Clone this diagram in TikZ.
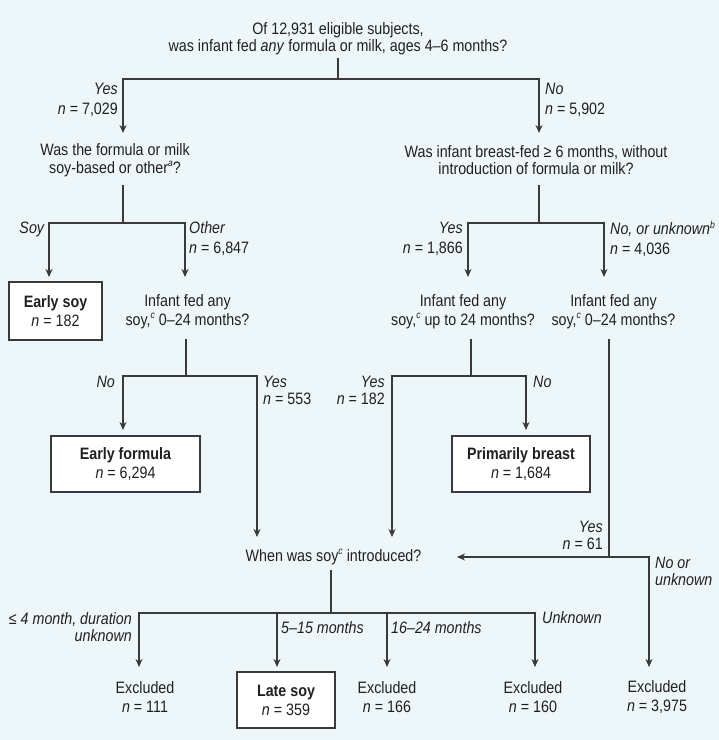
\documentclass[tikz,border=0pt]{standalone}
\usepackage{fontspec}
\setmainfont[FakeStretch=0.865]{Liberation Sans}
\usetikzlibrary{arrows.meta}
\definecolor{bg}{HTML}{EDF7F9}
\definecolor{ink}{HTML}{231F20}
\definecolor{lnc}{HTML}{3A3A3A}
\newcommand{\fnmark}[1]{\raisebox{0.75ex}{\fontsize{10}{10}\selectfont\textit{#1}}}
\begin{document}
\begin{tikzpicture}[x=1pt,y=-1pt,
  every node/.style={text=ink, inner sep=0pt},
  qtext/.style={align=center, font=\fontsize{16.5}{17.5}\selectfont},
  qtextb/.style={align=center, font=\fontsize{16.5}{19}\selectfont},
  labr/.style={align=right, font=\fontsize{16.5}{17}\selectfont},
  labl/.style={align=left, font=\fontsize{16.5}{17}\selectfont},
  labrw/.style={align=right, font=\fontsize{16.5}{20}\selectfont},
  lablw/.style={align=left, font=\fontsize{16.5}{20}\selectfont},
  outbox/.style={draw=lnc, fill=white, line width=1.1pt, align=center,
    font=\fontsize{16.5}{19}\selectfont},
  ln/.style={draw=lnc, line width=1.1pt},
  arr/.style={ln, -{Stealth[length=8pt,width=7pt,inset=2.5pt]}}]
\fill[bg] (0,0) rectangle (719,740);
\useasboundingbox (0,0) rectangle (719,740);

% questions
\node[qtext, minimum height=39pt] (q1) at (338,38.5) {Of 12,931 eligible subjects,\\was infant fed \textit{any} formula or milk, ages 4–6 months?};
\node[qtext, minimum height=50pt] (q2l) at (115,160) {Was the formula or milk\\soy-based or other\fnmark{a}?};
\node[qtext, minimum height=50pt] (q2r) at (536,160) {Was infant breast-fed ≥ 6 months, without\\introduction of formula or milk?};
\node[qtextb, minimum height=55pt] (q3l) at (187.5,311.5) {Infant fed any\\soy,\fnmark{c} 0–24 months?};
\node[qtextb, minimum height=55pt] (q3m) at (463,311.5) {Infant fed any\\soy,\fnmark{c} up to 24 months?};
\node[qtextb, minimum height=55pt] (q3r) at (613.5,311.5) {Infant fed any\\soy,\fnmark{c} 0–24 months?};
\node[qtext, minimum height=26pt] (q4) at (333.5,557) {When was soy\fnmark{c} introduced?};

% outcome boxes
\node[outbox, minimum width=93pt, minimum height=58pt] (esoy) at (55.5,311) {\textbf{Early soy}\\\textit{n} = 182};
\node[outbox, minimum width=149pt, minimum height=56pt] (efor) at (125.5,464) {\textbf{Early formula}\\\textit{n} = 6,294};
\node[outbox, minimum width=138pt, minimum height=56pt] (pbr) at (521,464) {\textbf{Primarily breast}\\\textit{n} = 1,684};
\node[outbox, minimum width=98pt, minimum height=56pt] (lsoy) at (286,700) {\textbf{Late soy}\\\textit{n} = 359};

% excluded
\node[qtextb] (ex1) at (145,697.5) {Excluded\\\textit{n} = 111};
\node[qtextb] (ex2) at (387,697.5) {Excluded\\\textit{n} = 166};
\node[qtextb] (ex3) at (533,697.5) {Excluded\\\textit{n} = 160};
\node[qtextb] (ex4) at (657,697.5) {Excluded\\\textit{n} = 3,975};

% branch labels
\node[labrw, anchor=east] (lb1) at (118,99.5) {\textit{Yes}\\\textit{n} = 7,029};
\node[lablw, anchor=west] (lb2) at (545,99.5) {\textit{No}\\\textit{n} = 5,902};
\node[labr, anchor=east] (lb3) at (45,229) {\textit{Soy}};
\node[lablw, anchor=west] (lb4) at (189,239) {\textit{Other}\\\textit{n} = 6,847};
\node[labrw, anchor=east] (lb5) at (463,239) {\textit{Yes}\\\textit{n} = 1,866};
\node[lablw, anchor=west] (lb6) at (610,239) {\textit{No, or unknown}\fnmark{b}\\\textit{n} = 4,036};
\node[labr, anchor=east] (lb7) at (115,382) {\textit{No}};
\node[labl, anchor=west] (lb8) at (263,390) {\textit{Yes}\\\textit{n} = 553};
\node[labr, anchor=east] (lb9) at (385,390) {\textit{Yes}\\\textit{n} = 182};
\node[labl, anchor=west] (lb10) at (533,382) {\textit{No}};
\node[labr, anchor=east] (lb11) at (603,535.5) {\textit{Yes}\\\textit{n} = 61};
\node[labl, anchor=west] (lb12) at (655,571.5) {\textit{No or}\\\textit{unknown}};
\node[labr, anchor=east] (lb13) at (132,627) {\textit{≤ 4 month, duration}\\\textit{unknown}};
\node[labl, anchor=west] (lb14) at (281,628) {\textit{5–15 months}};
\node[labl, anchor=west] (lb15) at (391,628) {\textit{16–24 months}};
\node[labl, anchor=west] (lb16) at (542,618) {\textit{Unknown}};

% junctions and arrow ends
\coordinate (j1) at (338,79);
\coordinate (t1) at (123,133);
\coordinate (t2) at (539,133);
\coordinate (j2) at (123,223);
\coordinate (t3) at (49,277);
\coordinate (t4) at (185,277);
\coordinate (j3) at (539,223);
\coordinate (t5) at (468,277);
\coordinate (t6) at (604,277);
\coordinate (j4) at (186,376);
\coordinate (t7) at (123,430);
\coordinate (t8) at (257,537);
\coordinate (j5) at (471,376);
\coordinate (t9) at (392,537);
\coordinate (t10) at (526,430);
\coordinate (j6) at (609,557);
\coordinate (t11) at (457,557);
\coordinate (t12) at (649,667);
\coordinate (j7) at (331,613);
\coordinate (t13) at (139,667);
\coordinate (t14) at (277,667);
\coordinate (t15) at (387,667);
\coordinate (t16) at (535,667);

% connectors
\draw[arr] (q1.south) -- (j1) -| (t1);
\draw[arr] (j1) -| (t2);
\draw[ln] (q2l.south -| j2) -- (j2);
\draw[arr] (j2) -| (t3);
\draw[arr] (j2) -| (t4);
\draw[ln] (q2r.south -| j3) -- (j3);
\draw[arr] (j3) -| (t5);
\draw[arr] (j3) -| (t6);
\draw[ln] (q3l.south -| j4) -- (j4);
\draw[arr] (j4) -| (t7);
\draw[arr] (j4) -| (t8);
\draw[ln] (q3m.south -| j5) -- (j5);
\draw[arr] (j5) -| (t9);
\draw[arr] (j5) -| (t10);
\draw[arr] (q3r.south -| j6) -- (j6) -- (t11);
\draw[arr] (j6) -| (t12);
\draw[ln] (q4.south -| j7) -- (j7);
\draw[arr] (j7) -| (t13);
\draw[arr] (j7) -| (t14);
\draw[arr] (j7) -| (t15);
\draw[arr] (j7) -| (t16);
\end{tikzpicture}
\end{document}
